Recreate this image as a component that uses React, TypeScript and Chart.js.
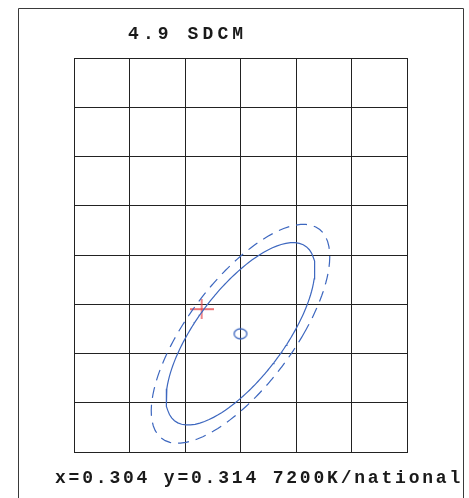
import React, { useEffect, useRef } from 'react';
import { Chart, registerables } from 'chart.js';

Chart.register(...registerables);

// ---- data ----
const titleText = '4.9 SDCM';
const footerText = 'x=0.304 y=0.314 7200K/national';

// grid lines (chromaticity x / y)
const xGridLines = [0.2925, 0.2975, 0.3025, 0.3075, 0.3125, 0.3175, 0.3225];
const yGridLines = [0.2995, 0.3045, 0.3095, 0.3145, 0.3195, 0.3245, 0.3295, 0.3345, 0.3395];

// MacAdam ellipse: centre and metric coefficients g11, g12, g22
const ellipseCenter = [0.3075, 0.3115];
const ellipseMetric = [111.0e4, -56.7e4, 58.1e4];
const solidEllipseStep = 5;
const dashedEllipseStep = 6;

// measured chromaticity
const measuredPoint = [0.304, 0.314];

const BLUE = '#3d67bf';
const RED = '#e8454a';

function ellipsePoints(step: number, n = 180) {
  const [g11, g12, g22] = ellipseMetric;
  const pts: { x: number; y: number }[] = [];
  for (let i = 0; i <= n; i++) {
    const t = (2 * Math.PI * i) / n;
    const c = Math.cos(t);
    const s = Math.sin(t);
    const r = step / Math.sqrt(g11 * c * c + 2 * g12 * c * s + g22 * s * s);
    pts.push({ x: ellipseCenter[0] + r * c, y: ellipseCenter[1] + r * s });
  }
  return pts;
}

function makeCross() {
  const c = document.createElement('canvas');
  c.width = 24;
  c.height = 20;
  const ctx = c.getContext('2d')!;
  ctx.strokeStyle = RED;
  ctx.lineWidth = 1.3;
  ctx.beginPath();
  ctx.moveTo(0, 10);
  ctx.lineTo(24, 10);
  ctx.moveTo(12, 0);
  ctx.lineTo(12, 20);
  ctx.stroke();
  return c;
}

function makeCentreMark() {
  const c = document.createElement('canvas');
  c.width = 16;
  c.height = 14;
  const ctx = c.getContext('2d')!;
  ctx.strokeStyle = BLUE;
  ctx.lineWidth = 1.3;
  ctx.beginPath();
  ctx.ellipse(8, 7, 6.4, 5.0, 0, 0, Math.PI * 2);
  ctx.stroke();
  return c;
}

const framePlugin = {
  id: 'frameAndText',
  beforeDraw(chart: any) {
    const ctx = chart.ctx;
    ctx.save();
    ctx.fillStyle = '#ffffff';
    ctx.fillRect(0, 0, chart.width, chart.height);
    ctx.strokeStyle = '#3a3a3a';
    ctx.lineWidth = 1;
    ctx.beginPath();
    ctx.moveTo(18.5, chart.height);
    ctx.lineTo(18.5, 8.5);
    ctx.lineTo(463.5, 8.5);
    ctx.lineTo(463.5, chart.height);
    ctx.stroke();
    ctx.restore();
  },
  afterDraw(chart: any) {
    const ctx = chart.ctx;
    const area = chart.chartArea;
    ctx.save();
    ctx.fillStyle = '#1a1a1a';
    ctx.textBaseline = 'alphabetic';
    ctx.textAlign = 'left';
    ctx.font = 'bold 18px "Liberation Mono", "DejaVu Sans Mono", monospace';
    (ctx as any).letterSpacing = '4.1px';
    ctx.fillText(titleText, area.left + 54, area.top - 19);
    (ctx as any).letterSpacing = '2.8px';
    ctx.fillText(footerText, area.left - 19, area.bottom + 31);
    ctx.restore();
  },
};

export default function App() {
  const ref = useRef<HTMLCanvasElement>(null);

  useEffect(() => {
    if (!ref.current) return;
    const chart = new Chart(ref.current, {
      type: 'scatter',
      data: {
        datasets: [
          {
            label: 'dashed',
            data: ellipsePoints(dashedEllipseStep),
            showLine: true,
            borderColor: BLUE,
            borderWidth: 1.2,
            borderDash: [11, 7],
            pointRadius: 0,
            fill: false,
            tension: 0,
          },
          {
            label: 'solid',
            data: ellipsePoints(solidEllipseStep),
            showLine: true,
            borderColor: BLUE,
            borderWidth: 1.2,
            pointRadius: 0,
            fill: false,
            tension: 0,
          },
          {
            label: 'centre',
            data: [{ x: ellipseCenter[0], y: ellipseCenter[1] }],
            pointStyle: makeCentreMark() as any,
            pointRadius: 5,
          },
          {
            label: 'measured',
            data: [{ x: measuredPoint[0], y: measuredPoint[1] }],
            pointStyle: makeCross() as any,
            pointRadius: 5,
          },
        ],
      },
      options: {
        animation: false,
        responsive: false,
        devicePixelRatio: 1,
        layout: { padding: { left: 74, top: 58, right: 62, bottom: 46 } },
        plugins: { legend: { display: false }, tooltip: { enabled: false }, title: { display: false } },
        scales: {
          x: {
            type: 'linear',
            min: xGridLines[0],
            max: xGridLines[xGridLines.length - 1],
            afterBuildTicks: (s: any) => {
              s.ticks = xGridLines.map((v) => ({ value: v }));
            },
            afterFit: (s: any) => {
              s.height = 0;
            },
            ticks: { display: false },
            grid: { color: '#222', lineWidth: 1, drawTicks: false },
            border: { display: true, color: '#222' },
          },
          y: {
            type: 'linear',
            min: yGridLines[0],
            max: yGridLines[yGridLines.length - 1],
            afterBuildTicks: (s: any) => {
              s.ticks = yGridLines.map((v) => ({ value: v }));
            },
            afterFit: (s: any) => {
              s.width = 0;
            },
            ticks: { display: false },
            grid: { color: '#222', lineWidth: 1, drawTicks: false },
            border: { display: true, color: '#222' },
          },
        },
      },
      plugins: [framePlugin],
    });
    return () => chart.destroy();
  }, []);

  return (
    <div style={{ position: 'absolute', left: 0, top: 0, width: 469, height: 498, background: '#fff' }}>
      <canvas ref={ref} width={469} height={498} />
    </div>
  );
}
